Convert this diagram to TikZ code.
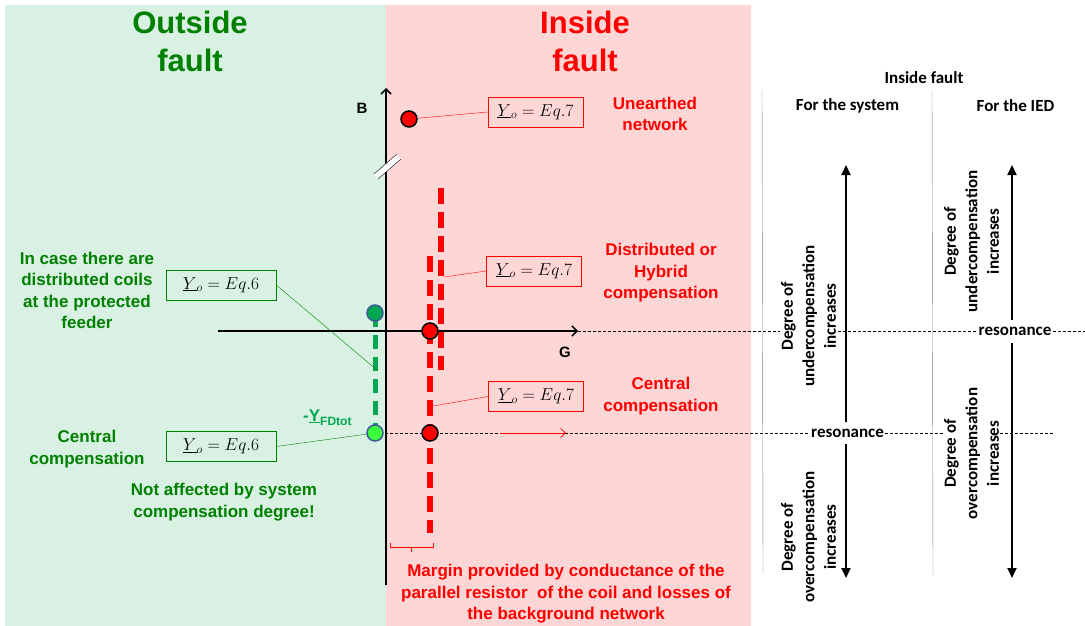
\documentclass[tikz,border=0pt]{standalone}
\usepackage{fontspec}
\setmainfont{Liberation Sans}
\newfontfamily\calfont{Carlito}
\usetikzlibrary{arrows.meta}
\definecolor{bggreen}{RGB}{216,241,226}
\definecolor{bgpink}{RGB}{255,214,214}
\definecolor{dkgreen}{RGB}{0,128,0}
\definecolor{dashgreen}{RGB}{0,166,80}
\definecolor{litegreen}{RGB}{60,255,60}
\definecolor{dotborder}{RGB}{60,90,150}
\begin{document}
\begin{tikzpicture}[x=1pt,y=-1pt,
  redtxt/.style={text=red,font=\bfseries\fontsize{17}{21.5}\selectfont,align=center,inner sep=0pt},
  grntxt/.style={text=dkgreen,font=\bfseries\fontsize{17}{21.5}\selectfont,align=center,inner sep=0pt},
  title/.style={font=\bfseries\fontsize{31}{38}\selectfont,align=center,inner sep=0pt},
  eqbox/.style={draw,minimum width=95pt,minimum height=30pt,inner sep=0pt,font=\fontsize{18}{20}\selectfont},
  reddot/.style={circle,draw=black,line width=1.5pt,fill=red,minimum size=16pt,inner sep=0pt},
  gdot/.style={circle,draw=dotborder,line width=1.5pt,minimum size=16pt,inner sep=0pt},
  panel/.style={font=\calfont\bfseries\fontsize{17}{21.5}\selectfont,align=center,inner sep=1pt},
  rottxt/.style={panel,rotate=90,fill=white},
  dotline/.style={thin,dash pattern=on 3pt off 2pt},
  axis/.style={line width=1.5pt,-{Straight Barb[length=5pt,width=10pt]}},
  bigarrow/.style={line width=2pt,-{Triangle[length=10pt,width=9pt]}},
  reddash/.style={red,line width=5.5pt,dash pattern=on 16pt off 8pt},
  greendash/.style={dashgreen,line width=5pt,dash pattern=on 14pt off 8pt},
  lead/.style={thin}
]
\useasboundingbox (0,0) rectangle (1085,626);
\fill[bggreen] (5,5) rectangle (386,626);
\fill[bgpink] (386,5) rectangle (751,626);

% titles
\node[title,text=dkgreen] (outt) at (190,41) {Outside\\fault};
\node[title,text=red] (int) at (585,41) {Inside\\fault};

% dotted lines
\coordinate (gr) at (578,331);
\coordinate (dl1) at (1085,331);
\coordinate (dl2a) at (375,433);
\coordinate (dl2b) at (1055,433);
\draw[dotline] (gr) -- (dl1);
\draw[dotline] (dl2a) -- (dl2b);

% axes
\coordinate (btop) at (386,88);
\coordinate (bbot) at (386,585);
\coordinate (gl) at (218,331);
\draw[axis] (bbot) -- (btop);
\draw[axis] (gl) -- (gr);
\node[font=\bfseries\fontsize{15}{18}\selectfont] (blab) at (362,108) {B};
\node[font=\bfseries\fontsize{15}{18}\selectfont] (glab) at (565,352) {G};
% axis break
\fill[white] (374,174) -- (397,154) -- (401,159) -- (378,179) -- cycle;
\draw[thin] (374,174) -- (397,154) (378,179) -- (401,159);

% dashed loci
\coordinate (r1t) at (441,188); \coordinate (r1b) at (441,370);
\coordinate (r2t) at (430,256); \coordinate (r2b) at (430,533);
\draw[reddash] (r1t) -- (r1b);
\draw[reddash] (r2t) -- (r2b);
\coordinate (gt) at (375,313); \coordinate (gb) at (375,433);
\draw[greendash] (gt) -- (gb);

% small red arrow
\coordinate (ra1) at (500,433); \coordinate (ra2) at (566,433);
\draw[red,line width=0.7pt,-{Straight Barb[length=5pt,width=9pt]}] (ra1) -- (ra2);

% bracket
\coordinate (bk1) at (390,543); \coordinate (bk2) at (433,543);
\draw[red,thin] (bk1) -- ++(0,4) -| (bk2);
\draw[red,thin] (411.5,547) -- (411.5,552);

% dots
\node[reddot] (d1) at (409,119) {};
\node[reddot] (d2) at (430,331) {};
\node[reddot] (d3) at (430,433) {};
\node[gdot,fill=dashgreen] (g1) at (gt) {};
\node[gdot,fill=litegreen] (g2) at (gb) {};

% equation boxes
\node[eqbox,draw=red] (e1) at (535.5,112) {$\underline{Y}_o = Eq.7$};
\node[eqbox,draw=red] (e2) at (534,271) {$\underline{Y}_o = Eq.7$};
\node[eqbox,draw=red] (e3) at (536,396.5) {$\underline{Y}_o = Eq.7$};
\node[eqbox,draw=dkgreen,minimum width=110pt] (e4) at (221,285) {$\underline{Y}_o = Eq.6$};
\node[eqbox,draw=dkgreen,minimum width=110pt] (e5) at (221,446.5) {$\underline{Y}_o = Eq.6$};
\coordinate (c2) at (444,277);
\coordinate (c3) at (433,406);
\coordinate (c4) at (377,370);
\draw[lead,red] (e1.west) -- (d1);
\draw[lead,red] (e2.west) -- (c2);
\draw[lead,red] (e3.west) -- (c3);
\draw[lead,dkgreen] (e4.east) -- (c4);
\draw[lead,dkgreen] (e5.east) -- (g2);

% red labels
\node[redtxt] (l1) at (655,114) {Unearthed\\network};
\node[redtxt] (l2) at (661,273) {Distributed or\\Hybrid\\compensation};
\node[redtxt] (l3) at (661,396) {Central\\compensation};
\node[redtxt] (l4) at (566,594) {Margin provided by conductance of the\\parallel resistor\ \ of the coil and losses of\\the background network};

% green labels
\node[grntxt] (l5) at (87,290.5) {In case there are\\distributed coils\\at the protected\\feeder};
\node[grntxt] (l6) at (87,449) {Central\\compensation};
\node[grntxt] (l7) at (224,502) {Not affected by system\\compensation degree!};
\node[text=dashgreen,font=\bfseries\fontsize{17}{20}\selectfont,inner sep=0pt,anchor=base west] (yfd) at (303,421) {-\underline{Y}\raisebox{-4pt}{\fontsize{12}{12}\selectfont FDtot}};

% right panel
\node[panel] (h1) at (924,78) {Inside fault};
\node[panel] (h2) at (847.5,106) {For the system};
\node[panel] (h3) at (1015.5,106) {For the IED};
\coordinate (v1t) at (762,91); \coordinate (v1b) at (763,573);
\coordinate (v2t) at (932,91); \coordinate (v2b) at (933,575);
\draw[gray,thin] (v1t) -- (v1b);
\draw[gray,thin] (v2t) -- (v2b);

\node[rottxt] (t1) at (808.5,316) {Degree of\\undercompensation\\increases};
\node[rottxt] (t2) at (808.5,537) {Degree of\\overcompensation\\increases};
\node[rottxt] (t3) at (971.5,241.5) {Degree of\\undercompensation\\increases};
\node[rottxt] (t4) at (971.5,453.5) {Degree of\\overcompensation\\increases};

\node[panel,fill=white] (res1) at (1015,331) {resonance};
\node[panel,fill=white] (res2) at (847.5,433) {resonance};

\coordinate (a1s) at (846,422); \coordinate (a1e) at (846,165);
\coordinate (a2s) at (846,444); \coordinate (a2e) at (846,578);
\coordinate (a3s) at (1012,320); \coordinate (a3e) at (1012,165);
\coordinate (a4s) at (1012,343); \coordinate (a4e) at (1012,578);
\draw[bigarrow] (a1s) -- (a1e);
\draw[bigarrow] (a2s) -- (a2e);
\draw[bigarrow] (a3s) -- (a3e);
\draw[bigarrow] (a4s) -- (a4e);
\end{tikzpicture}
\end{document}
